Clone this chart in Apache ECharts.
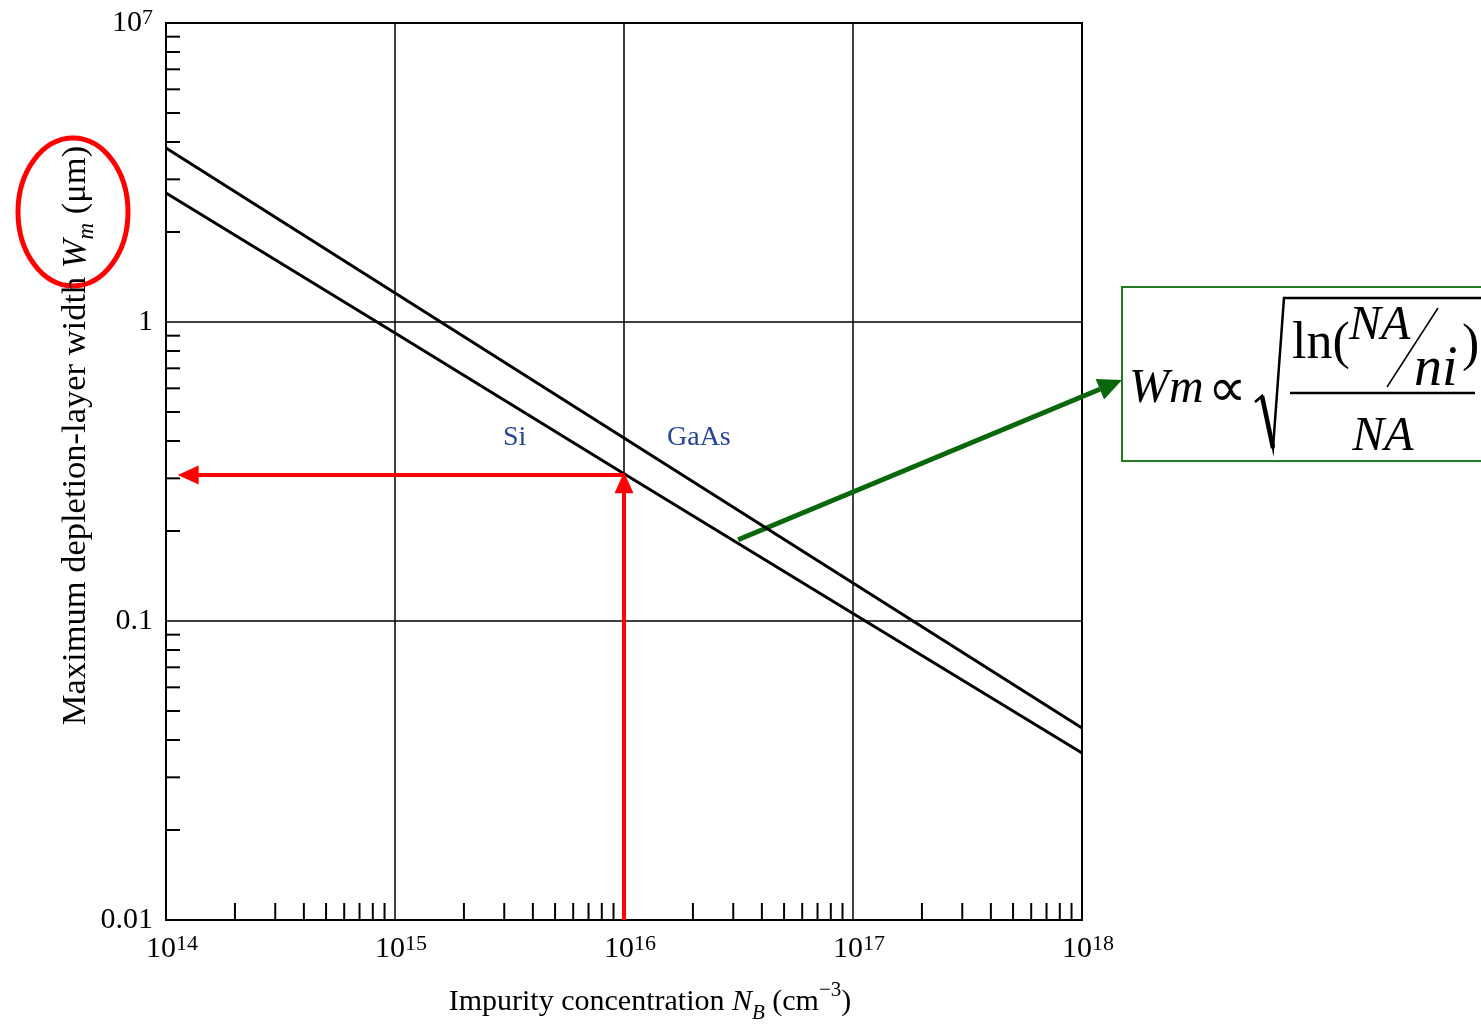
<!DOCTYPE html>
<html>
<head>
<meta charset="utf-8">
<script src="https://cdn.jsdelivr.net/npm/echarts@6/dist/echarts.min.js"></script>
<style>
  html, body { margin: 0; padding: 0; background: #fff; }
  #main { width: 1481px; height: 1027px; }
</style>
</head>
<body>
<div id="main"></div>
<script>
// impurity concentration (cm^-3) at each decade
var concentration = [1e14, 1e15, 1e16, 1e17, 1e18];
// maximum depletion-layer width (um)
var wmGaAs = [3.82, 1.25, 0.409, 0.134, 0.0439];
var wmSi = [2.70, 0.919, 0.311, 0.106, 0.0362];

// tick labels (the top one is printed as 10^7 in the original figure)
var xTickLabels = ['10^14', '10^15', '10^16', '10^17', '10^18'];
var yTickValues = [0.01, 0.1, 1, 10];
var yTickLabels = ['0.01', '0.1', '1', '10^7'];
var minorSteps = [2, 3, 4, 5, 6, 7, 8, 9];

// red read-out: Si at 1e16 cm^-3
var readoutN = 1e16;
var readoutWm = 0.308;
var readoutTipWm = 0.29;       // arrow head centre, tip lands on the curve
var readoutArrowEndN = 1.25e14;
// green arrow start (on the curves)
var greenFrom = [3.15e16, 0.187];

var serif = '"Liberation Serif", "Times New Roman", serif';

function sup(s) {
  var parts = s.split('^');
  if (parts.length < 2) return '{b|' + s + '}';
  return '{b|' + parts[0] + '}{s|' + parts[1] + '}';
}

var minorTicks = [];
for (var e = 14; e < 18; e++) {
  minorSteps.forEach(function (m) { minorTicks.push([m * Math.pow(10, e), 0.01, 0]); });
}
for (var k = -2; k < 1; k++) {
  minorSteps.forEach(function (m) { minorTicks.push([1e14, +(m * Math.pow(10, k)).toPrecision(3), 1]); });
}

var labelRich = {
  b: { fontFamily: serif, fontSize: 30, lineHeight: 32, color: '#000' },
  s: { fontFamily: serif, fontSize: 22, lineHeight: 19, verticalAlign: 'top', color: '#000' }
};

var myChart = echarts.init(document.getElementById('main'));

var option = {
  animation: false,
  backgroundColor: '#fff',
  grid: {
    left: 166, right: 399, top: 23, bottom: 107,
    show: true, borderColor: '#000', borderWidth: 2,
    containLabel: false, outerBoundsMode: 'none'
  },
  xAxis: {
    type: 'log', logBase: 10, min: 1e14, max: 1e18,
    axisLine: { show: true, lineStyle: { color: '#000', width: 2 } },
    axisTick: { show: false },
    splitLine: { show: true, lineStyle: { color: '#000', width: 1.5 } },
    axisLabel: {
      margin: 13,
      padding: [0, 0, 0, 12],
      formatter: function (v) {
        var i = Math.round(Math.log10(v)) - 14;
        return sup(xTickLabels[i]);
      },
      rich: labelRich
    },
    name: 'Impurity concentration {i|N}{sub|B} (cm{sup|−3})',
    nameLocation: 'middle',
    nameGap: 60,
    nameMoveOverlap: false,
    nameTextStyle: {
      fontFamily: serif, fontSize: 30, color: '#000', lineHeight: 44,
      padding: [0, 0, 0, 52],
      rich: {
        i: { fontFamily: serif, fontSize: 30, fontStyle: 'italic', lineHeight: 44, color: '#000' },
        sub: { fontFamily: serif, fontSize: 21, fontStyle: 'italic', lineHeight: 16, verticalAlign: 'bottom', color: '#000' },
        sup: { fontFamily: serif, fontSize: 21, lineHeight: 20, verticalAlign: 'top', color: '#000' }
      }
    }
  },
  yAxis: {
    type: 'log', logBase: 10, min: 0.01, max: 10,
    axisLine: { show: true, lineStyle: { color: '#000', width: 2 } },
    axisTick: { show: false },
    splitLine: { show: true, lineStyle: { color: '#000', width: 1.5 } },
    axisLabel: {
      margin: 13,
      formatter: function (v) {
        var i = Math.round(Math.log10(v)) + 2;
        return sup(yTickLabels[i]);
      },
      rich: labelRich
    },
    name: 'Maximum depletion-layer width {i|W}{sub|m} (μm)',
    nameLocation: 'middle',
    nameGap: 68,
    nameMoveOverlap: false,
    nameTextStyle: {
      fontFamily: serif, fontSize: 34.5, color: '#000', lineHeight: 44,
      padding: [0, 0, 0, 72],
      rich: {
        i: { fontFamily: serif, fontSize: 34.5, fontStyle: 'italic', lineHeight: 44, color: '#000' },
        sub: { fontFamily: serif, fontSize: 23, fontStyle: 'italic', lineHeight: 16, verticalAlign: 'bottom', color: '#000' }
      }
    }
  },
  series: [
    {
      name: 'GaAs',
      type: 'line',
      silent: true,
      symbol: 'none',
      lineStyle: { color: '#000', width: 3 },
      data: concentration.map(function (n, i) { return [n, wmGaAs[i]]; })
    },
    {
      name: 'Si',
      type: 'line',
      silent: true,
      symbol: 'none',
      lineStyle: { color: '#000', width: 3 },
      data: concentration.map(function (n, i) { return [n, wmSi[i]]; }),
      markLine: {
        silent: true,
        symbol: ['none', 'triangle'],
        symbolSize: [19, 21],
        label: { show: false },
        lineStyle: { color: '#ff0000', width: 4, type: 'solid' },
        emphasis: { disabled: true },
        data: [
          [{ coord: [readoutN, 0.01] }, { coord: [readoutN, readoutTipWm] }],
          [{ coord: [readoutN, readoutWm] }, { coord: [readoutArrowEndN, readoutWm] }]
        ]
      }
    },
    {
      name: 'minor ticks',
      type: 'custom',
      silent: true,
      data: minorTicks,
      encode: { x: 0, y: 1 },
      renderItem: function (params, api) {
        var p = api.coord([api.value(0), api.value(1)]);
        var horiz = api.value(2) === 1;
        return {
          type: 'line',
          shape: horiz
            ? { x1: p[0], y1: p[1], x2: p[0] + 14, y2: p[1] }
            : { x1: p[0], y1: p[1], x2: p[0], y2: p[1] - 17 },
          style: { stroke: '#000', lineWidth: 2 }
        };
      }
    }
  ]
};

myChart.setOption(option);

// annotations: labels, ellipse, green arrow and the formula box
var from = myChart.convertToPixel({ gridIndex: 0 }, greenFrom);
var tip = [1122, 380];
var dx = tip[0] - from[0], dy = tip[1] - from[1];
var len = Math.sqrt(dx * dx + dy * dy);
var ux = dx / len, uy = dy / len;
var headLen = 24, headW = 11;
var base = [tip[0] - ux * headLen, tip[1] - uy * headLen];
var green = '#0a660a';

myChart.setOption({
  graphic: [
    { type: 'text', x: 503, y: 438, style: { text: 'Si', font: '28px ' + serif, fill: '#27449a', verticalAlign: 'middle' } },
    { type: 'text', x: 667, y: 438, style: { text: 'GaAs', font: '28px ' + serif, fill: '#27449a', verticalAlign: 'middle' } },
    { type: 'ellipse', shape: { cx: 73, cy: 212, rx: 55, ry: 74 }, style: { stroke: '#ff0000', lineWidth: 5, fill: null } },
    { type: 'line', shape: { x1: from[0], y1: from[1], x2: base[0], y2: base[1] }, style: { stroke: green, lineWidth: 5 } },
    {
      type: 'polygon',
      shape: { points: [tip, [base[0] - uy * headW, base[1] + ux * headW], [base[0] + uy * headW, base[1] - ux * headW]] },
      style: { fill: green }
    },
    { type: 'rect', shape: { x: 1122, y: 287, width: 400, height: 174 }, style: { stroke: '#237a23', lineWidth: 2, fill: null } },
    { type: 'text', x: 1129, y: 389, style: { text: 'Wm', font: 'italic 48px ' + serif, fill: '#000', verticalAlign: 'middle' } },
    { type: 'text', x: 1208, y: 392, style: { text: '∝', font: '54px ' + serif, fill: '#000', verticalAlign: 'middle' } },
    { type: 'polyline', shape: { points: [[1255, 402], [1262, 396], [1273, 448], [1284, 298], [1481, 298]] }, style: { stroke: '#000', lineWidth: 2.5, fill: null } },
    { type: 'line', shape: { x1: 1262, y1: 396, x2: 1273, y2: 448 }, style: { stroke: '#000', lineWidth: 4.5 } },
    { type: 'text', x: 1292, y: 344, style: { text: 'ln(', font: '52px ' + serif, fill: '#000', verticalAlign: 'middle' } },
    { type: 'text', x: 1349, y: 326, style: { text: 'NA', font: 'italic 48px ' + serif, fill: '#000', verticalAlign: 'middle' } },
    { type: 'line', shape: { x1: 1387, y1: 387, x2: 1438, y2: 308 }, style: { stroke: '#000', lineWidth: 1.5 } },
    { type: 'text', x: 1414, y: 370, style: { text: 'ni', font: 'italic 56px ' + serif, fill: '#000', verticalAlign: 'middle' } },
    { type: 'text', x: 1462, y: 346, style: { text: ')', font: '52px ' + serif, fill: '#000', verticalAlign: 'middle' } },
    { type: 'line', shape: { x1: 1290, y1: 393, x2: 1475, y2: 393 }, style: { stroke: '#000', lineWidth: 2.5 } },
    { type: 'text', x: 1383, y: 437, style: { text: 'NA', font: 'italic 48px ' + serif, fill: '#000', align: 'center', verticalAlign: 'middle' } }
  ]
});
</script>
</body>
</html>
